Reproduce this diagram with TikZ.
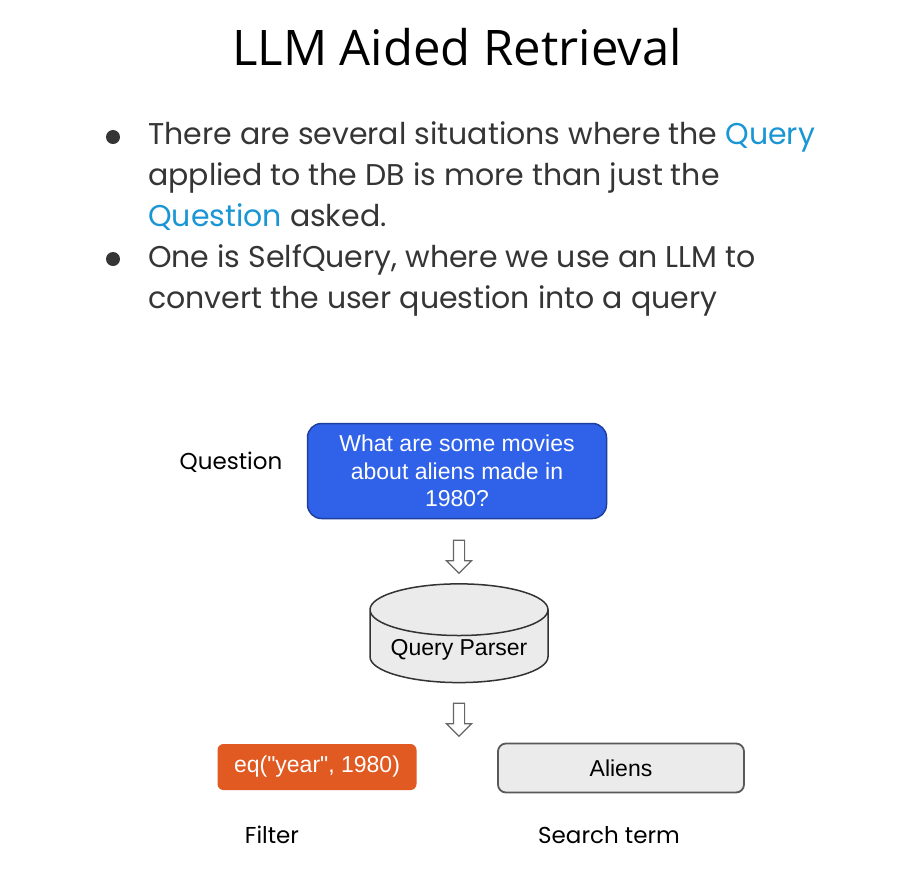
\documentclass[tikz,border=0pt]{standalone}
\usepackage{fontspec}
\setmainfont{Poppins}
\newfontfamily\titlefont{Open Sans}
\newfontfamily\boxfont{Liberation Sans}
\usetikzlibrary{shapes.geometric,shapes.arrows}
\definecolor{bodygray}{HTML}{353535}
\definecolor{accentblue}{HTML}{1A96D4}
\definecolor{qblue}{HTML}{2F62E8}
\definecolor{qblueborder}{HTML}{1E3F9E}
\definecolor{filterorange}{HTML}{E05A22}
\definecolor{lightfill}{HTML}{EBEBEB}
\tikzstyle{bodytext}=[anchor = base west, inner sep = 0pt, align = left, text = bodygray, font = \fontsize{30}{41}\selectfont]
\tikzstyle{bulletdot}=[shape = circle, minimum size = 14pt, inner sep = 0pt, fill = bodygray]
\tikzstyle{labelText}=[inner sep = 0pt, font = \fontsize{23}{26}\selectfont]
\tikzstyle{boxText}=[font = \boxfont\fontsize{23}{27.5}\selectfont, align = center]
\tikzstyle{downArrow}=[shape = single arrow, shape border rotate = 270, draw = gray!80!black, fill = white, line width = 1.2pt, minimum height = 33pt, inner sep = 5pt, single arrow head extend = 7pt]

\begin{document}
\begin{tikzpicture}[x = 1pt, y = -1pt]
\useasboundingbox[fill = white] (0,0) rectangle (915,871);
% title and bullets
\node[font = \titlefont\fontsize{49}{52}\selectfont] (title) at (457,47) {LLM Aided Retrieval};
\node[bulletdot] (b1) at (113,137) {};
\node[bulletdot] (b2) at (113,259) {};
\node[bodytext] (t1) at (148,226) {There are several situations where the \textcolor{accentblue}{Query}\\applied to the DB is more than just the\\\textcolor{accentblue}{Question} asked.};
\node[bodytext] (t2) at (148,308) {One is SelfQuery, where we use an LLM to\\convert the user question into a query};
% diagram
\node[labelText] (qlabel) at (231,462) {Question};
\node[boxText, text = white, fill = qblue, draw = qblueborder, line width = 1.5pt, rounded corners = 14pt, minimum width = 299pt, minimum height = 95pt] (question) at (457,471) {What are some movies\\about aliens made in\\1980?};
\node[downArrow] (arrowA) at (459,554) {};
\node[boxText, shape = cylinder, shape border rotate = 90, aspect = 0.36, draw = black!80, fill = lightfill, line width = 1.5pt, minimum width = 178pt, minimum height = 75pt] (parser) at (459,650) {Query Parser};
\node[downArrow] (arrowB) at (459,717) {};
\node[boxText, text = white, fill = filterorange, rounded corners = 6pt, minimum width = 199pt, minimum height = 46pt] (filter) at (317,767) {eq("year", 1980)};
\node[boxText, fill = lightfill, draw = black!65, line width = 1.8pt, rounded corners = 8pt, minimum width = 246pt, minimum height = 49pt] (term) at (621,768) {Aliens};
\node[labelText] (flabel) at (272,835) {Filter};
\node[labelText] (slabel) at (609,835) {Search term};
\end{tikzpicture}
\end{document}
